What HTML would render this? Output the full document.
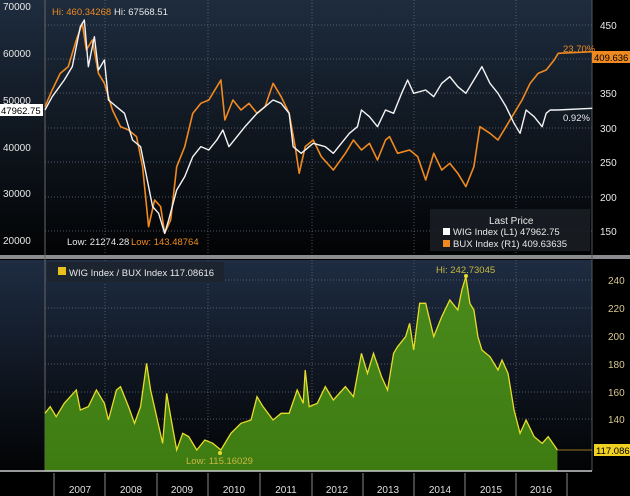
<!DOCTYPE html>
<html><head><meta charset="utf-8"><style>
html,body{margin:0;padding:0;background:#000;}
svg{display:block;font-family:"Liberation Sans",sans-serif;}
</style></head><body>
<svg width="630" height="496" viewBox="0 0 630 496" xmlns="http://www.w3.org/2000/svg">
<defs>
<linearGradient id="g1" x1="0" y1="0" x2="0" y2="1"><stop offset="0" stop-color="#1e2c3e"/><stop offset="1" stop-color="#020304"/></linearGradient>
<linearGradient id="g2" x1="0" y1="0" x2="0" y2="1"><stop offset="0" stop-color="#1e2c42"/><stop offset="1" stop-color="#020304"/></linearGradient>
<linearGradient id="gf" x1="0" y1="0" x2="0" y2="1"><stop offset="0" stop-color="#4a8a1c"/><stop offset="1" stop-color="#3e7c12"/></linearGradient>
</defs>
<rect width="630" height="496" fill="#000"/>
<rect x="0" y="0" width="592" height="255" fill="url(#g1)"/>
<rect x="0" y="260" width="592" height="211" fill="url(#g2)"/>
<rect x="0" y="255" width="630" height="4" fill="#8a8c90"/>
<line x1="45" y1="0" x2="45" y2="471" stroke="#666" stroke-width="1"/>
<line x1="592" y1="0" x2="592" y2="471" stroke="#555" stroke-width="1"/>
<!-- grid top -->
<g stroke="#6a7080" stroke-width="0.7" stroke-dasharray="1,2">
<line x1="45" y1="25" x2="592" y2="25"/><line x1="45" y1="59" x2="592" y2="59"/><line x1="45" y1="93" x2="592" y2="93"/><line x1="45" y1="128" x2="592" y2="128"/><line x1="45" y1="162" x2="592" y2="162"/><line x1="45" y1="197" x2="592" y2="197"/><line x1="45" y1="231" x2="592" y2="231"/>
<line x1="105" y1="0" x2="105" y2="255"/><line x1="208" y1="0" x2="208" y2="255"/><line x1="312" y1="0" x2="312" y2="255"/><line x1="414" y1="0" x2="414" y2="255"/><line x1="516" y1="0" x2="516" y2="255"/>
<line x1="45" y1="280" x2="592" y2="280"/><line x1="45" y1="308" x2="592" y2="308"/><line x1="45" y1="336" x2="592" y2="336"/><line x1="45" y1="364" x2="592" y2="364"/><line x1="45" y1="392" x2="592" y2="392"/><line x1="45" y1="419" x2="592" y2="419"/>
<line x1="105" y1="260" x2="105" y2="471"/><line x1="208" y1="260" x2="208" y2="471"/><line x1="312" y1="260" x2="312" y2="471"/><line x1="414" y1="260" x2="414" y2="471"/><line x1="516" y1="260" x2="516" y2="471"/>
</g>
<!-- top series -->
<g transform="scale(0.4016,0.3333)" fill="none" stroke-linejoin="round">
<polyline vector-effect="non-scaling-stroke" stroke="#f08a20" stroke-width="1.6" points="112,320 130,270 150,220 170,200 190,120 205,70 215,150 230,120 245,220 260,250 280,330 300,380 320,390 340,410 355,500 370,680 385,600 400,620 410,700 425,660 440,500 460,440 480,340 500,310 520,300 540,260 550,240 560,360 580,300 600,330 620,310 640,340 660,320 680,250 700,290 720,340 735,440 745,520 760,440 780,420 800,470 830,510 860,460 880,420 900,450 920,430 940,480 960,420 970,410 990,460 1020,450 1040,470 1060,540 1080,460 1100,510 1120,490 1140,520 1160,560 1180,500 1195,380 1220,400 1240,420 1260,380 1280,340 1300,300 1320,250 1340,220 1360,210 1380,180 1390,160 1475,155"/>
<polyline vector-effect="non-scaling-stroke" stroke="#f4f4f4" stroke-width="1.4" points="112,330 130,290 160,240 180,200 200,80 210,60 220,200 235,110 245,210 260,180 270,300 290,320 310,340 330,420 350,440 370,560 380,620 395,640 410,700 420,660 440,570 460,530 480,470 500,440 520,450 540,420 555,390 570,440 590,410 610,380 640,340 680,300 700,310 720,340 730,440 750,460 780,430 810,440 830,460 850,430 870,400 890,380 900,330 920,350 940,380 960,330 980,340 1000,280 1015,240 1030,280 1060,270 1080,290 1100,250 1120,230 1140,260 1160,280 1180,240 1200,200 1220,250 1240,280 1260,320 1280,370 1295,400 1310,330 1330,350 1350,380 1360,340 1370,330 1388,330 1475,325"/>
</g>
<!-- bottom fill -->
<g transform="translate(0,250) scale(0.4016,0.3333)">
<polygon fill="url(#gf)" points="112,662 112,490 125,470 140,500 160,460 190,420 200,480 220,470 240,420 260,460 270,510 290,420 300,410 320,470 335,520 350,470 365,340 375,420 390,500 405,580 415,430 425,500 440,600 455,550 470,560 490,600 510,570 530,580 550,600 575,550 600,520 625,510 640,440 655,470 680,510 700,490 720,490 740,420 755,460 760,360 770,470 790,460 810,410 830,450 860,410 880,440 900,310 915,370 930,310 950,380 965,420 980,310 990,290 1010,260 1020,220 1030,300 1045,160 1060,160 1080,260 1100,200 1120,150 1140,180 1150,120 1160,80 1170,160 1180,180 1190,260 1200,300 1220,320 1240,360 1250,330 1265,370 1280,480 1295,550 1310,510 1330,560 1350,580 1365,560 1388,600 1388,662"/>
<polyline vector-effect="non-scaling-stroke" fill="none" stroke="#e8dc2a" stroke-width="1.3" points="112,490 125,470 140,500 160,460 190,420 200,480 220,470 240,420 260,460 270,510 290,420 300,410 320,470 335,520 350,470 365,340 375,420 390,500 405,580 415,430 425,500 440,600 455,550 470,560 490,600 510,570 530,580 550,600 575,550 600,520 625,510 640,440 655,470 680,510 700,490 720,490 740,420 755,460 760,360 770,470 790,460 810,410 830,450 860,410 880,440 900,310 915,370 930,310 950,380 965,420 980,310 990,290 1010,260 1020,220 1030,300 1045,160 1060,160 1080,260 1100,200 1120,150 1140,180 1150,120 1160,80 1170,160 1180,180 1190,260 1200,300 1220,320 1240,360 1250,330 1265,370 1280,480 1295,550 1310,510 1330,560 1350,580 1365,560 1388,600"/>
</g>
<line x1="557" y1="450" x2="592" y2="450" stroke="#c89a30" stroke-width="0.8"/>
<line x1="0" y1="471" x2="592" y2="471" stroke="#ccc" stroke-width="1.5"/>
<!-- top axis labels -->
<g fill="#e8e8e8" font-size="10">
<text x="3" y="10">70000</text><text x="3" y="57">60000</text><text x="3" y="151">40000</text><text x="3" y="197">30000</text><text x="3" y="244">20000</text><text x="3" y="104">50000</text>
<text x="600" y="29">450</text><text x="600" y="97">350</text><text x="600" y="132">300</text><text x="600" y="166">250</text><text x="600" y="201">200</text><text x="600" y="235">150</text>
</g>
<rect x="0" y="104" width="43" height="12" fill="#fff"/><text x="1" y="114" font-size="9.5" fill="#000">47962.75</text>
<rect x="592" y="51" width="38" height="12" fill="#f08a20"/><text x="594" y="61" font-size="9.5" fill="#000">409.636</text>
<text x="563" y="52" font-size="9.5" fill="#f08a20">23.70%</text>
<text x="563" y="121" font-size="9.5" fill="#e8e8e8">0.92%</text>
<text x="52" y="15" font-size="9.5" fill="#f08a20">Hi: 460.34268</text><text x="114" y="15" font-size="9.5" fill="#e8e8e8">Hi: 67568.51</text>
<text x="67" y="245" font-size="9.5" fill="#e8e8e8">Low: 21274.28</text><text x="131" y="245" font-size="9.5" fill="#f08a20">Low: 143.48764</text>
<rect x="430" y="209" width="160" height="42" fill="#1a1e24" opacity="0.9"/>
<text x="489" y="224" font-size="10" fill="#e8e8e8">Last Price</text>
<rect x="443" y="228" width="7" height="7" fill="#fff"/><text x="453" y="235" font-size="9.5" fill="#e8e8e8">WIG Index  (L1)  47962.75</text>
<rect x="443" y="240" width="7" height="7" fill="#f08a20"/><text x="453" y="247" font-size="9.5" fill="#e8e8e8">BUX Index  (R1)    409.63635</text>
<!-- bottom labels -->
<rect x="47" y="262" width="177" height="20" fill="#1c2430"/>
<rect x="58" y="267" width="8" height="8" fill="#e8c020"/>
<text x="69" y="276" font-size="9.5" fill="#e8e8e8">WIG Index / BUX Index 117.08616</text>
<text x="436" y="273" font-size="9.5" fill="#c8b840">Hi: 242.73045</text>
<circle cx="466" cy="276" r="2" fill="#e8dc2a"/>
<text x="186" y="464" font-size="9.5" fill="#c8b840">Low: 115.16029</text>
<circle cx="220" cy="453" r="2" fill="#e8dc2a"/>
<g fill="#d8c890" font-size="10">
<text x="608" y="284">240</text><text x="608" y="312">220</text><text x="608" y="340">200</text><text x="608" y="368">180</text><text x="608" y="396">160</text><text x="608" y="423">140</text>
</g>
<rect x="594" y="444" width="36" height="12" fill="#f0d020"/><text x="596" y="454" font-size="9.5" fill="#000">117.086</text>
<!-- x axis -->
<g stroke="#888" stroke-width="1">
<line x1="54" y1="473" x2="54" y2="496"/><line x1="105" y1="473" x2="105" y2="496"/><line x1="157" y1="473" x2="157" y2="496"/><line x1="208" y1="473" x2="208" y2="496"/><line x1="260" y1="473" x2="260" y2="496"/><line x1="312" y1="473" x2="312" y2="496"/><line x1="363" y1="473" x2="363" y2="496"/><line x1="414" y1="473" x2="414" y2="496"/><line x1="465" y1="473" x2="465" y2="496"/><line x1="516" y1="473" x2="516" y2="496"/><line x1="567" y1="473" x2="567" y2="496"/>
</g>
<g fill="#e0e0e0" font-size="10" text-anchor="middle">
<text x="80" y="493">2007</text><text x="131" y="493">2008</text><text x="182" y="493">2009</text><text x="234" y="493">2010</text><text x="286" y="493">2011</text><text x="337" y="493">2012</text><text x="388" y="493">2013</text><text x="440" y="493">2014</text><text x="491" y="493">2015</text><text x="541" y="493">2016</text>
</g>
</svg>
</body></html>
